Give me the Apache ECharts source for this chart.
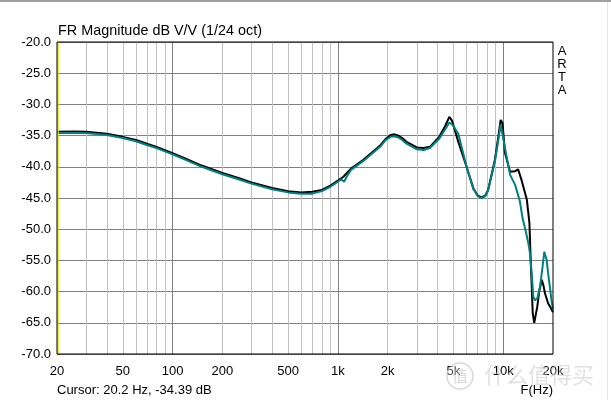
<!DOCTYPE html>
<html>
<head>
<meta charset="utf-8">
<script src="https://cdn.jsdelivr.net/npm/echarts@6/dist/echarts.min.js"></script>
<style>
html,body{margin:0;padding:0;background:#fff;}
#c{width:611px;height:400px;}
</style>
</head>
<body>
<div id="c"></div>
<script>
// ---- data ----
const blackFreq = [20,25,30,40,50,60,70,80,100,120,150,200,250,300,400,500,600,700,800,900,1000,1080,1200,1420,1800,1950,2080,2200,2320,2450,2600,3000,3300,3600,4100,4450,4720,4900,5350,6000,6600,7000,7400,7800,8100,8900,9300,9650,9900,10250,11000,11800,12300,12900,13900,14400,14660,14870,15080,15400,15700,16070,16500,17090,17500,17900,18700,19300,20000];
const blackDb = [-34.4,-34.35,-34.4,-34.7,-35.2,-35.7,-36.3,-36.8,-37.8,-38.7,-39.8,-41.0,-41.8,-42.5,-43.4,-43.9,-44.1,-44.0,-43.7,-43.0,-42.2,-41.6,-40.3,-38.9,-36.6,-35.5,-34.9,-34.8,-35.0,-35.4,-36.0,-36.9,-37.0,-36.8,-35.2,-33.5,-32.0,-32.6,-36.0,-40.0,-43.5,-44.6,-44.9,-44.6,-43.7,-38.9,-35.5,-32.5,-33.0,-37.8,-40.8,-40.7,-40.4,-42.1,-45.3,-49.0,-55.0,-59.0,-63.5,-65.0,-64.8,-62.4,-60.0,-58.1,-59.0,-60.3,-61.9,-62.5,-63.3];
const tealFreq = [20,25,30,40,50,60,70,80,100,120,150,200,250,300,400,500,600,700,800,900,1000,1050,1090,1130,1200,1420,1800,1950,2080,2200,2320,2450,2600,3000,3300,3600,4100,4450,4720,4950,5350,6000,6600,7000,7400,7800,8100,8900,9300,9650,9900,10250,11000,11800,12600,13100,13600,14200,14500,14870,15200,15560,15800,16100,16700,17300,17720,17900,18300,18700,19200,19600,20000];
const tealDb = [-34.6,-34.55,-34.6,-34.9,-35.4,-35.9,-36.5,-37.0,-38.0,-38.9,-40.0,-41.2,-42.0,-42.7,-43.6,-44.1,-44.3,-44.3,-43.9,-43.2,-42.4,-42.0,-42.4,-41.6,-40.5,-39.1,-36.8,-35.7,-35.2,-35.1,-35.3,-35.7,-36.3,-37.2,-37.3,-37.0,-35.5,-34.0,-32.9,-33.3,-34.7,-40.0,-43.5,-44.7,-45.0,-44.7,-43.8,-39.2,-36.0,-33.2,-32.9,-37.0,-41.3,-42.9,-45.5,-48.3,-50.0,-52.3,-53.8,-57.1,-60.8,-61.4,-61.6,-61.0,-59.2,-56.0,-53.6,-53.7,-54.9,-57.1,-59.5,-61.5,-62.8];
const xTickLabels = [20,50,100,200,500,1000,2000,5000,10000,20000];
const xMinorGrid = [30,40,50,60,70,80,90,200,300,400,500,600,700,800,900,2000,3000,4000,5000,6000,7000,8000,9000];
const xDecadeGrid = [100,1000,10000];
const cursorFreq = 20.2;
const titleText = 'FR Magnitude dB V/V (1/24 oct)';
const cursorText = 'Cursor: 20.2 Hz, -34.39 dB';

const font = '"Liberation Sans", Arial, sans-serif';
const chart = echarts.init(document.getElementById('c'), null, {renderer: 'canvas'});
const fmt = v => v >= 1000 ? (v / 1000) + 'k' : String(v);

chart.setOption({
  animation: false,
  backgroundColor: '#fff',
  grid: {left: 57, top: 42, right: 58, bottom: 46, show: true, borderColor: '#000', borderWidth: 1, backgroundColor: 'transparent', z: 10},
  xAxis: [{
    type: 'log', logBase: 10, min: 20, max: 20000,
    axisLine: {show: false},
    axisTick: {show: false, customValues: xMinorGrid},
    axisLabel: {customValues: xTickLabels, formatter: fmt, color: '#000', fontFamily: font, fontSize: 13, margin: 11, showMinLabel: true, showMaxLabel: true},
    splitLine: {show: true, lineStyle: {color: '#c0c0c0', width: 1}},
    minorTick: {show: false}, minorSplitLine: {show: false}
  }, {
    type: 'log', logBase: 10, min: 20, max: 20000, position: 'bottom',
    axisLine: {show: false},
    axisTick: {show: false, customValues: xDecadeGrid},
    axisLabel: {show: false},
    splitLine: {show: true, lineStyle: {color: '#808080', width: 1}}
  }],
  yAxis: {
    type: 'value', min: -70, max: -20, interval: 5,
    axisLine: {show: false}, axisTick: {show: false},
    axisLabel: {formatter: v => v.toFixed(1), color: '#000', fontFamily: font, fontSize: 13, margin: 6},
    splitLine: {show: true, lineStyle: {color: '#808080', width: 1}}
  },
  series: [{
    type: 'line', name: 'black', xAxisIndex: 0,
    data: blackFreq.map((f, i) => [f, blackDb[i]]),
    showSymbol: false, symbol: 'none',
    lineStyle: {color: '#000', width: 2}, z: 3,
    markLine: {
      silent: true, symbol: 'none', label: {show: false},
      lineStyle: {color: '#e8e800', width: 1.5, type: 'solid'},
      data: [{xAxis: cursorFreq}]
    }
  }, {
    type: 'line', name: 'teal', xAxisIndex: 0,
    data: tealFreq.map((f, i) => [f, tealDb[i]]),
    showSymbol: false, symbol: 'none',
    lineStyle: {color: '#008080', width: 2}, z: 4
  }],
  graphic: [
    {type: 'rect', shape: {x: 0, y: 0, width: 611, height: 2}, style: {fill: '#a0a0a0'}, silent: true},
    {type: 'rect', shape: {x: 607, y: 2, width: 1, height: 398}, style: {fill: '#e6e6e6'}, silent: true},
    {type: 'text', x: 58, y: 31, style: {text: titleText, font: '14.4px ' + font, fill: '#000', textVerticalAlign: 'middle'}},
    {type: 'text', x: 57, y: 390, style: {text: cursorText, font: '13px ' + font, fill: '#000', textVerticalAlign: 'middle'}},
    {type: 'text', x: 553, y: 390, style: {text: 'F(Hz)', font: '13px ' + font, fill: '#000', textAlign: 'right', textVerticalAlign: 'middle'}},
    {type: 'text', x: 562, y: 45.5, style: {text: 'A\nR\nT\nA', font: '13px ' + font, fill: '#000', textAlign: 'center', textVerticalAlign: 'top', lineHeight: 12.8}},
    {type: 'circle', shape: {cx: 460, cy: 376, r: 13}, style: {fill: 'rgba(255,255,255,0.3)', stroke: 'rgba(190,190,190,0.6)', lineWidth: 1.5}, z: 100},
    {type: 'text', x: 460, y: 376, z: 100, style: {text: '值', font: '16px "Noto Sans CJK SC"', fill: 'rgba(190,190,190,0.6)', textAlign: 'center', textVerticalAlign: 'middle'}},
    {type: 'text', x: 484, y: 375, z: 100, style: {text: '什么值得买', font: '22px "Noto Sans CJK SC"', fill: 'rgba(200,200,200,0.55)', textVerticalAlign: 'middle'}}
  ]
});
</script>
</body>
</html>
